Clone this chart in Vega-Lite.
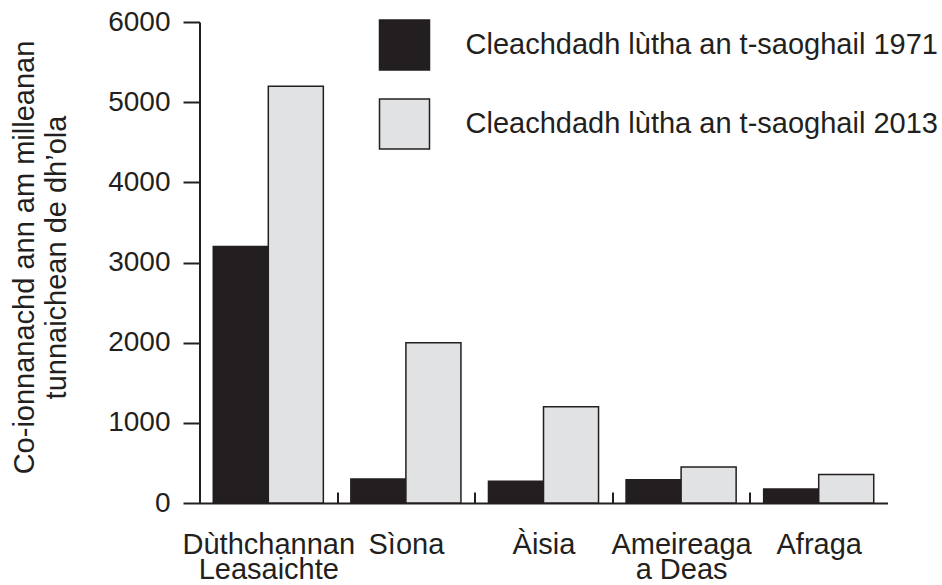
{
  "$schema": "https://vega.github.io/schema/vega-lite/v6.json",
  "width": 688,
  "height": 481,
  "autosize": {"type": "none"},
  "padding": {"left": 199.5, "top": 22, "right": 54.5, "bottom": 82},
  "background": "white",
  "config": {"view": {"stroke": null}, "font": "Liberation Sans"},
  "data": {
    "values": [
      {"region": "Dùthchannan\nLeasaichte", "series": "Cleachdadh lùtha an t-saoghail 1971", "value": 3200},
      {"region": "Dùthchannan\nLeasaichte", "series": "Cleachdadh lùtha an t-saoghail 2013", "value": 5200},
      {"region": "Sìona", "series": "Cleachdadh lùtha an t-saoghail 1971", "value": 300},
      {"region": "Sìona", "series": "Cleachdadh lùtha an t-saoghail 2013", "value": 2000},
      {"region": "Àisia", "series": "Cleachdadh lùtha an t-saoghail 1971", "value": 270},
      {"region": "Àisia", "series": "Cleachdadh lùtha an t-saoghail 2013", "value": 1200},
      {"region": "Ameireaga\na Deas", "series": "Cleachdadh lùtha an t-saoghail 1971", "value": 290},
      {"region": "Ameireaga\na Deas", "series": "Cleachdadh lùtha an t-saoghail 2013", "value": 450},
      {"region": "Afraga", "series": "Cleachdadh lùtha an t-saoghail 1971", "value": 175},
      {"region": "Afraga", "series": "Cleachdadh lùtha an t-saoghail 2013", "value": 355}
    ]
  },
  "mark": {"type": "bar", "stroke": "#231f20", "strokeWidth": 1.5},
  "encoding": {
    "x": {
      "field": "region",
      "type": "nominal",
      "sort": null,
      "scale": {"paddingInner": 0, "paddingOuter": 0},
      "axis": {
        "title": null,
        "labelAngle": 0,
        "labelExpr": "split(datum.label, '\\n')",
        "labelFont": "Liberation Sans",
        "labelFontSize": 29,
        "labelColor": "#231f20",
        "labelLineHeight": 25,
        "labelBaseline": "alphabetic",
        "labelPadding": 61,
        "labelLimit": 0,
        "labelOverlap": false,
        "labelFlush": false,
        "tickBand": "extent",
        "tickSize": -11,
        "tickWidth": 2,
        "tickColor": {"condition": {"test": "datum.value === 'Afraga'", "value": "transparent"}, "value": "#231f20"},
        "domainColor": "#231f20",
        "domainWidth": 2
      }
    },
    "xOffset": {
      "field": "series",
      "type": "nominal",
      "scale": {"paddingInner": 0, "paddingOuter": 0.25}
    },
    "y": {
      "field": "value",
      "type": "quantitative",
      "scale": {"domain": [0, 6000], "nice": false},
      "axis": {
        "title": ["Co-ionnanachd ann am milleanan", "tunnaichean  de dh’ola"],
        "values": [0, 1000, 2000, 3000, 4000, 5000, 6000],
        "format": "d",
        "grid": false,
        "tickSize": 16.5,
        "tickWidth": 2,
        "tickColor": "#231f20",
        "labelPadding": 13,
        "labelFont": "Liberation Sans",
        "labelFontSize": 28,
        "labelColor": "#231f20",
        "domainColor": "#231f20",
        "domainWidth": 2,
        "titleFont": "Liberation Sans",
        "titleFontSize": 29,
        "titleFontWeight": "normal",
        "titleColor": "#231f20",
        "titleAngle": 270,
        "titleAlign": "center",
        "titleBaseline": "alphabetic",
        "titleX": -166.5,
        "titleY": 235,
        "titleLineHeight": 32
      }
    },
    "color": {
      "field": "series",
      "type": "nominal",
      "scale": {
        "domain": ["Cleachdadh lùtha an t-saoghail 1971", "Cleachdadh lùtha an t-saoghail 2013"],
        "range": ["#231f20", "#e1e2e4"]
      },
      "legend": {
        "title": null,
        "orient": "none",
        "legendX": 179,
        "legendY": -3,
        "padding": 0,
        "symbolType": "square",
        "symbolSize": 2500,
        "symbolStrokeColor": "#231f20",
        "symbolStrokeWidth": 1.5,
        "symbolOpacity": 1,
        "labelFont": "Liberation Sans",
        "labelFontSize": 29,
        "labelColor": "#231f20",
        "labelOffset": 35,
        "labelLimit": 0,
        "rowPadding": 23
      }
    }
  }
}
